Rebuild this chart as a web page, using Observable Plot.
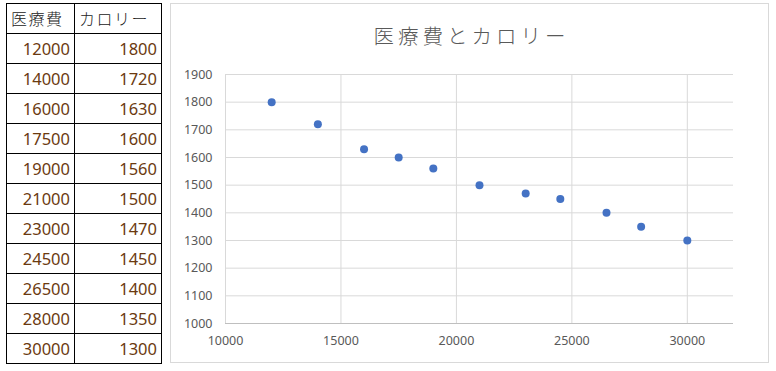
<!DOCTYPE html>
<html>
<head>
<meta charset="utf-8">
<script src="https://cdn.jsdelivr.net/npm/d3@7"></script>
<script src="https://cdn.jsdelivr.net/npm/@observablehq/plot@0.6"></script>
<style>
  html, body { margin: 0; padding: 0; background: #fff; width: 776px; height: 371px; overflow: hidden; }
  body { position: relative; font-family: "Noto Sans CJK JP", "Noto Sans", sans-serif; }
  #tbl { position: absolute; left: 6px; top: 3px; border-collapse: collapse; }
  #tbl td { border: 1px solid #000; height: 29px; padding: 0 4px; font-size: 16px; line-height: 29px; box-sizing: border-box; }
  #tbl td.c1 { width: 68px; }
  #tbl td.c2 { width: 87px; }
  #tbl td.num { text-align: right; color: #6b3a10; font-family: "Noto Sans", sans-serif; font-size: 16.5px; }
  #tbl td.hd { text-align: left; color: #222; letter-spacing: 1.5px; font-weight: 300; }
  #chartbox { position: absolute; left: 170px; top: 3px; width: 597px; height: 358px; border: 1px solid #d9d9d9; }
  #title { position: absolute; left: 0; width: 597px; top: 17px; text-align: center; font-size: 20.5px; letter-spacing: 4px; padding-left: 4px; box-sizing: border-box; color: #595959; line-height: 28px; font-weight: 300; }
  #plot { position: absolute; left: 0; top: 0; }
</style>
</head>
<body>
<table id="tbl"></table>
<div id="chartbox">
  <div id="plot"></div>
  <div id="title"></div>
</div>
<script>
const headers = ["医療費", "カロリー"];
const costs = [12000, 14000, 16000, 17500, 19000, 21000, 23000, 24500, 26500, 28000, 30000];
const calories = [1800, 1720, 1630, 1600, 1560, 1500, 1470, 1450, 1400, 1350, 1300];
const title = "医療費とカロリー";
const xTicks = [10000, 15000, 20000, 25000, 30000];
const yTicks = [1000, 1100, 1200, 1300, 1400, 1500, 1600, 1700, 1800, 1900];

// table
const tbl = document.getElementById("tbl");
{
  const tr = document.createElement("tr");
  headers.forEach((h, i) => {
    const td = document.createElement("td");
    td.className = "hd " + (i === 0 ? "c1" : "c2");
    td.textContent = h;
    tr.appendChild(td);
  });
  tbl.appendChild(tr);
}
costs.forEach((c, i) => {
  const tr = document.createElement("tr");
  [c, calories[i]].forEach((v, j) => {
    const td = document.createElement("td");
    td.className = "num " + (j === 0 ? "c1" : "c2");
    td.textContent = v;
    tr.appendChild(td);
  });
  tbl.appendChild(tr);
});

document.getElementById("title").textContent = title;

const data = costs.map((c, i) => ({cost: c, cal: calories[i]}));

const chart = Plot.plot({
  width: 597,
  height: 358,
  marginLeft: 54,
  marginRight: 35,
  marginTop: 70,
  marginBottom: 39,
  style: { fontFamily: "'Noto Sans', sans-serif", fontSize: "12.5px", color: "#595959", background: "transparent" },
  x: { domain: [10000, 32000], ticks: xTicks, tickFormat: d => String(d), tickSize: 0, tickPadding: 12, label: null },
  y: { domain: [1000, 1900], ticks: yTicks, tickFormat: d => String(d), tickSize: 0, tickPadding: 13, label: null },
  marks: [
    Plot.gridX(xTicks, { stroke: "#d9d9d9", strokeOpacity: 1 }),
    Plot.gridY(yTicks, { stroke: "#d9d9d9", strokeOpacity: 1 }),
    Plot.ruleY([1000], { stroke: "#bfbfbf" }),
    Plot.axisX({ ticks: xTicks, tickSize: 0, tickPadding: 13, tickFormat: d => String(d), label: null, fill: "#595959" }),
    Plot.axisY({ ticks: yTicks, tickSize: 0, tickPadding: 13, tickFormat: d => String(d), label: null, fill: "#595959" }),
    Plot.dot(data, { x: "cost", y: "cal", r: 4, fill: "#4472C4", stroke: null })
  ]
});
document.getElementById("plot").appendChild(chart);
</script>
</body>
</html>
